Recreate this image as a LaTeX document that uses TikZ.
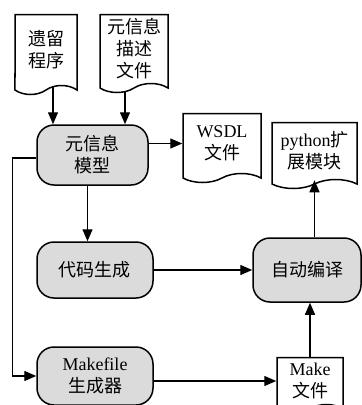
\documentclass[tikz,border=0pt]{standalone}
\usepackage{fontspec}
\setmainfont{Liberation Serif}
\newfontfamily\cjk{Noto Sans CJK SC}
\usetikzlibrary{shapes.symbols,arrows.meta,backgrounds}

\tikzset{
	proc/.style={draw, line width=1.5pt, fill=black!14, rounded corners=17pt, align=center,
		inner sep=0pt, font=\cjk\fontsize{18}{22}\selectfont},
	doc/.style={draw, tape, tape bend top=none, tape bend bottom=in and out, tape bend height=9pt,
		line width=1.5pt, fill=white, align=center, inner sep=0pt, font=\cjk\fontsize{18}{22}\selectfont},
	flow/.style={line width=1.4pt, -{Triangle[length=12pt,width=10pt]}}
}

\begin{document}
\begin{tikzpicture}[x=1pt,y=-1pt]
		\useasboundingbox (0,0) rectangle (362,405);
		\node[doc,minimum width=62pt,minimum height=80pt] (legacy)   at (46,50)    {遗留\\程序};
		\node[doc,minimum width=68pt,minimum height=78pt] (metadesc) at (134,49)   {元信息\\描述\\文件};
		\node[proc,minimum width=111pt,minimum height=60pt] (model)  at (92.5,155) {元信息\\模型};
		\node[doc,minimum width=78pt,minimum height=69pt] (wsdl)     at (222,143.5) {{\rmfamily WSDL}\\文件};
		\node[doc,minimum width=85pt,minimum height=66pt] (pyext)    at (314.5,151) {{\rmfamily python}扩\\展模块};
		\node[proc,minimum width=116pt,minimum height=56pt] (codegen)   at (95,270)  {代码生成};
		\node[proc,minimum width=108pt,minimum height=64pt] (autobuild) at (307,270) {自动编译};
		\node[proc,minimum width=116pt,minimum height=58pt] (makegen)   at (95,376)  {{\rmfamily Makefile}\\生成器};
		\node[doc,minimum width=66pt,minimum height=56pt] (makefile) at (310,381)  {{\rmfamily Make}\\文件};

		% inputs come in from behind the documents
		\begin{pgfonlayer}{background}
		\draw[flow] ([xshift=7pt]legacy.center) -- ([xshift=7pt]legacy.center |- model.north);
		\draw[flow] ([xshift=-9pt]metadesc.center) -- ([xshift=-9pt]metadesc.center |- model.north);
		\end{pgfonlayer}

		\draw[flow] (model.east |- wsdl.west) -- (wsdl.west);
		\draw[flow] ([xshift=-5pt]model.south) -- ([xshift=-5pt]model.south |- codegen.north);
		\draw[flow] ([yshift=-3pt]model.west) -- ++(-24,0) |- (makegen.west);
		\draw[flow] (codegen.east) -- (codegen.east -| autobuild.west);
		\draw[flow] (makefile.west -| makegen.east) -- (makefile.west);
		\draw[flow] (makefile.north) -- (makefile.north |- autobuild.south);
		\draw[flow] (pyext.south |- autobuild.north) -- (pyext.south);
\end{tikzpicture}
\end{document}
